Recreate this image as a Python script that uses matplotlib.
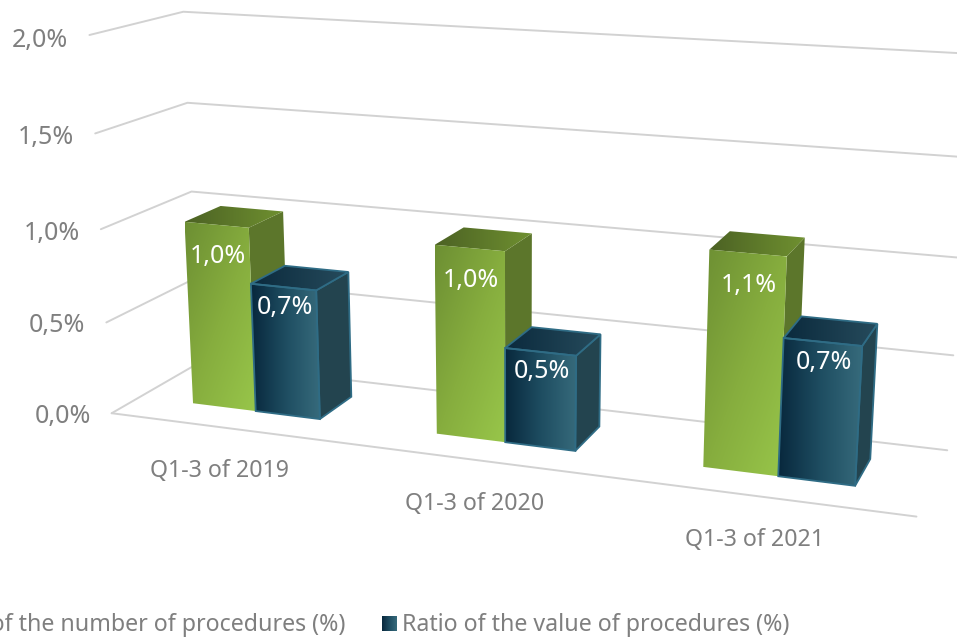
import numpy as np
import matplotlib
matplotlib.use("Agg")
from matplotlib import pyplot as plt
from matplotlib.patches import Polygon
from matplotlib.colors import LinearSegmentedColormap

categories = ["Q1-3 of 2019", "Q1-3 of 2020", "Q1-3 of 2021"]
number_ratio = [1.0, 1.0, 1.1]
value_ratio = [0.7, 0.5, 0.7]
number_labels = ["1,0%", "1,0%", "1,1%"]
value_labels = ["0,7%", "0,5%", "0,7%"]
y_ticks = [0.0, 0.5, 1.0, 1.5, 2.0]
y_labels = ["0,0%", "0,5%", "1,0%", "1,5%", "2,0%"]
series_names = ["Ratio of the number of procedures (%)", "Ratio of the value of procedures (%)"]

plt.rcParams['font.family'] = ['Noto Sans', 'DejaVu Sans']
TEXT = '#7f7f7f'

# box corners (u along categories, v depth, w value) -> picture pixels
box_pts = [
    (0,0,0,112,412), (1,0,0,917,517), (0,1,0,199,365), (1,1,0,947,450),
    (0,0,.5,106,322), (0,0,1,101,229), (0,0,1.5,95,134), (0,0,2,89,36),
    (0,1,1,192,190), (0,1,1.5,188,102), (0,1,2,183,12),
    (1,1,.5,953,355), (1,1,1,959,258), (1,1,1.5,966,157), (1,1,2,973,54),
]

def fit_camera(pts):
    rows = []
    for u, v, w, px, py in pts:
        px = px / 1000
        py = py / 1000
        rows.append([u, v, w, 1, 0, 0, 0, 0, -px*u, -px*v, -px*w, -px])
        rows.append([0, 0, 0, 0, u, v, w, 1, -py*u, -py*v, -py*w, -py])
    vt = np.linalg.svd(np.array(rows, dtype=float))[2]
    return vt[-1].reshape(3, 4)

cam = fit_camera(box_pts)

def proj(u, v, w):
    h = cam @ np.array([u, v, w, 1.0])
    return h[0] / h[2] * 1000, h[1] / h[2] * 1000

fig = plt.figure(figsize=(9.57, 6.37), dpi=100)
ax = fig.add_axes([0, 0, 1, 1])
ax.axis('off')

def gradient_face(corners, colors, angle=0, zorder=3):
    poly = Polygon(corners, closed=True, transform=ax.transData, fc='none', ec='none')
    ax.add_patch(poly)
    xs = [c[0] for c in corners]
    ys = [c[1] for c in corners]
    yy, xx = np.mgrid[0:1:64j, 0:1:64j]
    t = np.cos(angle) * xx + np.sin(angle) * yy
    t = (t - t.min()) / (t.max() - t.min())
    cmap = LinearSegmentedColormap.from_list('f', colors)
    im = ax.imshow(t, cmap=cmap, extent=[min(xs), max(xs), max(ys), min(ys)],
                   aspect='auto', zorder=zorder, interpolation='bilinear')
    im.set_clip_path(poly)

def draw_bar(u0, u1, v0, v1, val, style, zorder):
    fbl, fbr = proj(u0, v0, 0), proj(u1, v0, 0)
    ftl, ftr = proj(u0, v0, val), proj(u1, v0, val)
    bbr = proj(u1, v1, 0)
    btl, btr = proj(u0, v1, val), proj(u1, v1, val)
    ax.add_patch(Polygon([fbr, bbr, btr, ftr], fc=style['side'], ec=style['edge'], lw=style['lw'], zorder=zorder))
    gradient_face([ftl, ftr, btr, btl], style['top'], 0, zorder)
    gradient_face([fbl, fbr, ftr, ftl], style['front'], style['angle'], zorder)
    if style['lw'] > 0:
        ax.add_patch(Polygon([ftl, ftr, btr, btl], fc='none', ec=style['edge'], lw=style['lw'], zorder=zorder))
        ax.add_patch(Polygon([fbl, fbr, ftr, ftl], fc='none', ec=style['edge'], lw=style['lw'], zorder=zorder))
    return (ftl[0] + ftr[0]) / 2, (ftl[1] + ftr[1]) / 2

green = dict(front=['#6d8f33', '#86ad3e', '#98c64a'], top=['#4c6224', '#6f9030'], side='#5c762b',
             edge='#8aa85a', lw=0, angle=np.pi/4)
blue = dict(front=['#08283d', '#1e4d61', '#366a7b'], top=['#0b2a3d', '#264b5c'], side='#23444f',
            edge='#2f6c85', lw=1.3, angle=0)

# walls and floor
grid = dict(color='#d2d2d2', lw=1.4, zorder=1, solid_capstyle='round')
for t in y_ticks:
    a, b, c = proj(0, 0, t), proj(0, 1, t), proj(1, 1, t)
    ax.plot([a[0], b[0], c[0]], [a[1], b[1], c[1]], **grid)
a, b = proj(0, 0, 0), proj(1, 0, 0)
ax.plot([a[0], b[0]], [a[1], b[1]], **grid)

for t, lab in zip(y_ticks, y_labels):
    x, y = proj(0, 0, t)
    ax.text(x - 21, y + 3 + t, lab, ha='right', va='center', fontsize=18, color=TEXT)

bar_w = 0.0885
depth0, depth1 = 0.31, 0.725
for i, cat in enumerate(categories):
    uc = i / 3 + 0.1645
    top1 = draw_bar(uc - bar_w, uc, depth0, depth1, number_ratio[i], green, 4 + i)
    top2 = draw_bar(uc, uc + bar_w, depth0, depth1, value_ratio[i], blue, 4 + i)
    ax.text(top1[0] + 1, top1[1] + 32, number_labels[i], ha='center', va='center', fontsize=18, color='white', zorder=20)
    ax.text(top2[0] + 1, top2[1] + 20, value_labels[i], ha='center', va='center', fontsize=18, color='white', zorder=20)
    x, y = proj(uc, 0, 0)
    ax.text(x - 10, y + 43, cat, ha='center', va='center', fontsize=16.7, color=TEXT)

# legend, the first entry runs off the left edge in the original
ax.text(345, 625, series_names[0], ha='right', va='center', fontsize=16.7, color=TEXT)
gradient_face([(382, 616), (397, 616), (397, 631), (382, 631)], blue['front'], 0, 3)
ax.text(402, 625, series_names[1], ha='left', va='center', fontsize=16.7, color=TEXT)

ax.set_xlim(0, 957)
ax.set_ylim(637, 0)
fig.savefig('out.png', dpi=100)
